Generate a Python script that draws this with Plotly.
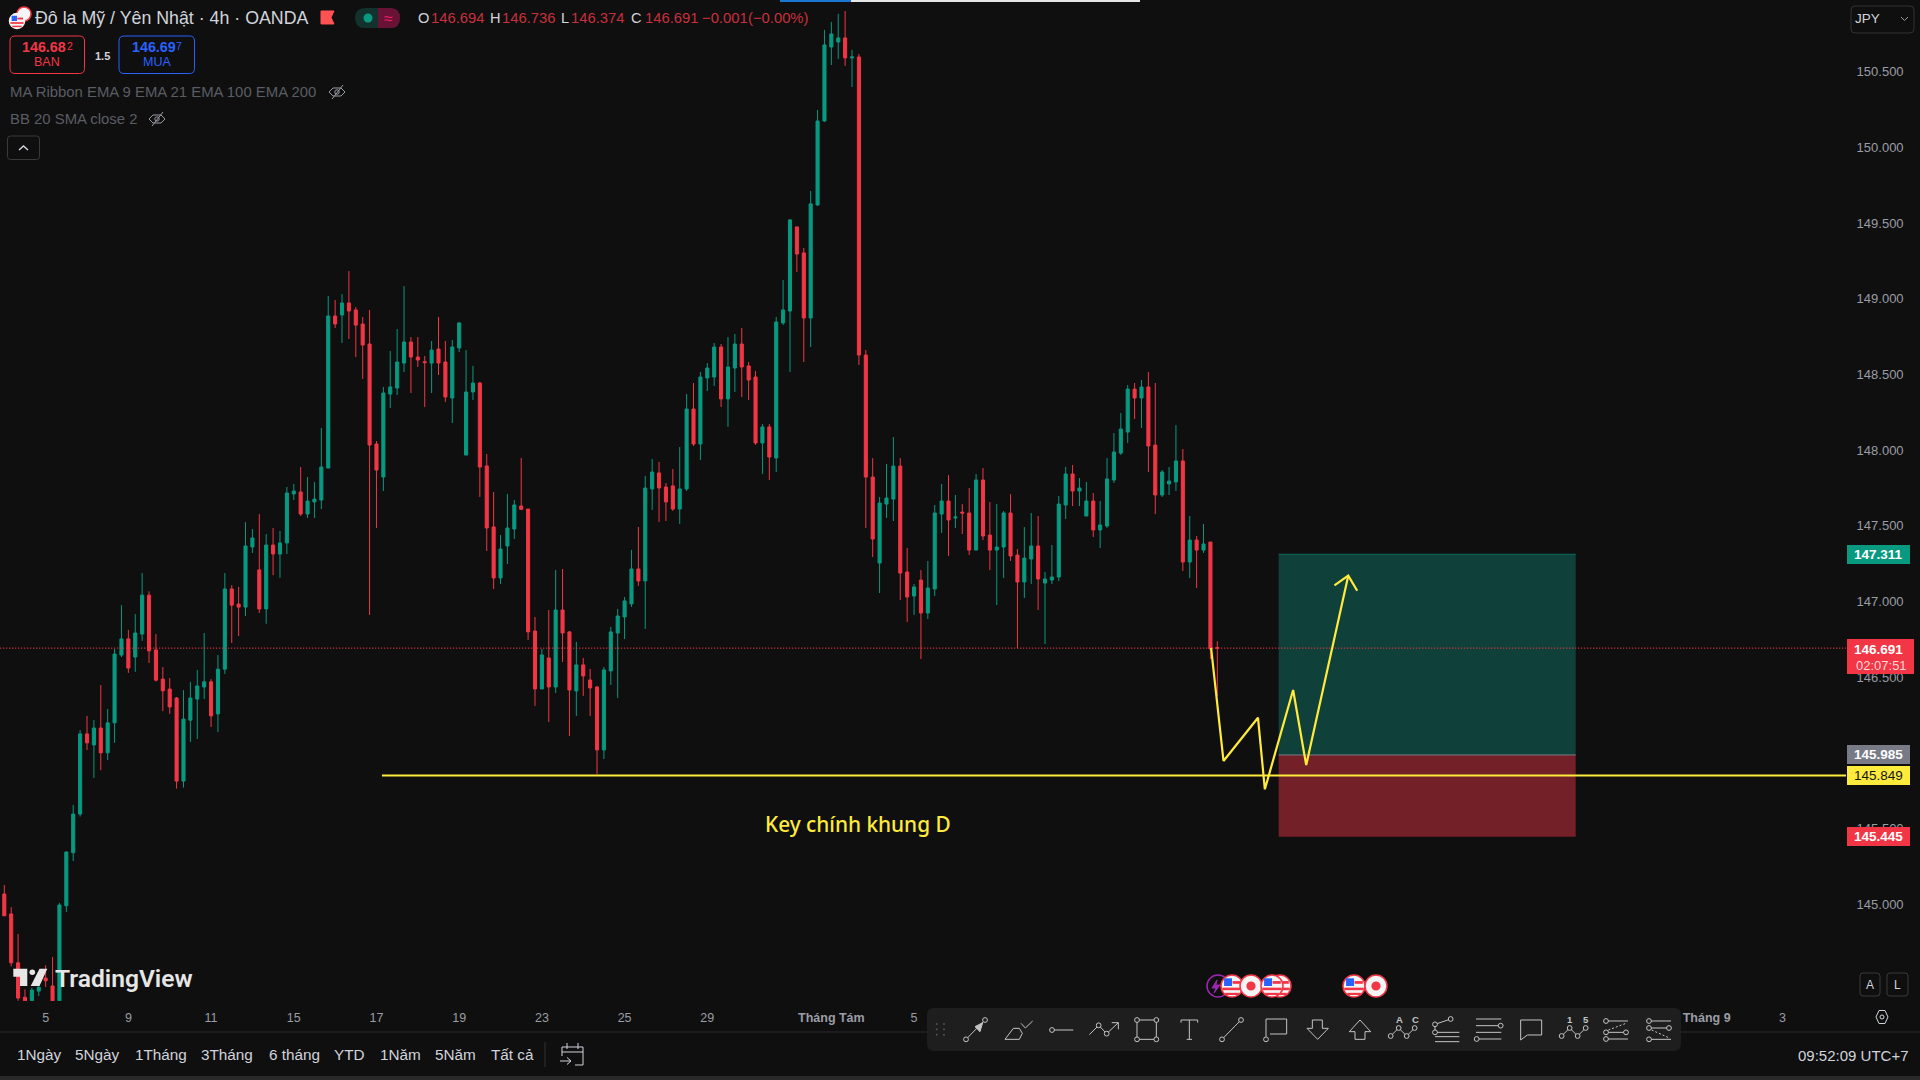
import plotly.graph_objects as go

# ---------- data ----------
opens = [145.066,144.934,144.611,144.383,144.360,144.424,144.510,144.458,144.360,144.988,
145.339,145.594,146.124,146.051,146.163,145.999,146.197,146.645,146.752,146.632,
146.784,147.041,146.679,146.486,146.420,146.361,145.812,146.215,146.354,146.434,
146.468,146.256,146.552,147.082,146.982,146.962,147.359,147.208,146.950,147.372,
147.313,147.386,147.710,147.723,147.577,147.657,147.670,147.881,148.886,148.893,
148.972,148.926,148.833,148.701,148.040,147.822,148.370,148.410,148.575,148.714,
148.615,148.584,148.575,148.668,148.582,148.344,148.675,147.967,148.384,148.443,
147.895,147.492,147.155,147.366,147.478,147.630,147.610,146.804,146.421,146.626,
146.434,146.943,146.798,146.408,146.580,146.480,146.434,146.018,146.540,146.791,
146.897,146.983,147.214,147.135,147.743,147.849,147.756,147.763,147.610,147.743,
148.271,148.040,148.476,148.483,148.681,148.338,148.542,148.701,148.556,148.483,
148.047,148.153,147.948,148.840,148.919,149.475,149.303,148.873,149.620,150.175,
150.664,150.697,150.724,150.592,150.598,148.628,147.822,147.253,147.643,147.676,
147.894,147.194,147.035,147.141,146.923,147.082,147.577,147.663,147.551,147.590,
147.584,147.339,147.802,147.438,147.339,147.359,147.584,147.306,147.128,147.280,
147.366,147.121,147.141,147.161,147.637,147.842,147.729,147.564,147.663,147.472,
147.498,147.802,147.980,148.119,148.403,148.344,148.417,148.033,147.703,147.776,
147.789,147.928,147.260,147.405,147.339,147.392,146.694]
highs = [145.125,144.979,144.802,144.435,144.447,144.481,144.595,144.649,145.007,145.348,
145.655,146.149,146.243,146.215,146.447,146.288,146.686,146.975,146.811,146.916,
147.187,147.066,146.784,146.566,146.493,146.368,146.413,146.468,146.547,146.791,
146.486,146.645,147.187,147.107,147.096,147.524,147.478,147.577,147.445,147.485,
147.465,147.756,147.776,147.888,147.822,147.789,148.146,149.018,148.992,149.031,
149.183,148.945,148.879,148.926,148.060,148.417,148.655,148.800,149.084,148.747,
148.747,148.622,148.721,148.880,148.721,148.728,148.846,148.661,148.556,148.450,
147.974,147.723,147.439,147.710,147.670,147.948,147.610,146.897,146.685,146.943,
147.207,147.214,146.804,146.732,146.626,146.553,146.441,146.566,146.831,146.950,
147.029,147.340,147.492,147.829,147.941,147.921,147.782,147.875,148.020,148.371,
148.443,148.516,148.575,148.708,148.701,148.747,148.767,148.807,148.582,148.523,
148.172,148.172,148.880,149.124,149.527,149.475,149.336,149.713,150.248,150.777,
150.830,150.883,150.902,150.645,150.618,148.662,147.947,147.690,147.908,148.086,
147.947,147.353,147.115,147.207,147.267,147.637,147.776,147.835,147.703,147.643,
147.749,147.842,147.881,147.657,147.643,147.597,147.709,147.346,147.491,147.584,
147.564,147.194,147.372,147.696,147.888,147.901,147.815,147.789,147.716,147.663,
147.947,148.113,148.245,148.430,148.443,148.463,148.516,148.443,147.868,147.888,
148.165,148.007,147.564,147.432,147.511,147.392,146.736]
lows = [144.922,144.588,144.360,144.360,144.360,144.392,144.451,144.360,144.360,144.947,
145.284,145.578,146.017,145.833,145.885,145.951,146.065,146.632,146.527,146.534,
146.739,146.593,146.470,146.274,146.256,145.762,145.769,146.070,146.090,146.354,
146.170,146.136,146.520,146.725,146.771,146.903,147.320,146.923,146.852,147.173,
147.155,147.313,147.670,147.564,147.551,147.551,147.610,147.881,148.807,148.708,
148.734,148.615,148.470,146.910,147.485,147.729,148.278,148.364,148.516,148.377,
148.549,148.285,148.377,148.496,148.318,148.179,148.648,147.967,148.331,147.690,
147.333,147.082,147.115,147.247,147.412,147.604,146.745,146.309,146.421,146.203,
146.395,146.599,146.110,146.243,146.375,146.243,145.859,145.958,146.447,146.361,
146.751,146.963,147.102,146.818,147.604,147.525,147.531,147.597,147.511,147.730,
148.027,147.934,148.390,148.423,148.285,148.153,148.384,148.351,148.331,148.034,
147.842,147.802,147.855,148.827,148.516,149.177,148.582,148.681,149.613,150.169,
150.545,150.585,150.539,150.400,148.562,147.485,147.293,147.055,147.551,147.531,
147.009,146.863,146.910,146.619,146.883,147.035,147.452,147.300,147.485,147.445,
147.306,147.339,147.405,147.207,146.976,147.154,147.267,146.692,147.022,147.115,
146.943,146.718,147.115,147.134,147.544,147.630,147.630,147.564,147.425,147.353,
147.485,147.782,147.967,148.047,148.205,148.146,147.855,147.577,147.690,147.703,
147.729,147.200,147.154,147.088,147.320,146.619,146.374]
closes = [144.922,144.611,144.378,144.360,144.431,144.449,144.492,144.360,144.993,145.343,
145.594,146.124,146.065,146.163,145.999,146.197,146.652,146.752,146.559,146.791,
147.041,146.673,146.479,146.409,146.302,145.812,146.222,146.361,146.441,146.468,
146.243,146.552,147.082,146.975,146.962,147.366,147.419,146.950,147.372,147.313,
147.386,147.716,147.729,147.577,147.663,147.676,147.888,148.886,148.833,148.972,
148.919,148.826,148.694,148.033,147.868,148.377,148.417,148.582,148.714,148.615,
148.595,148.578,148.661,148.575,148.351,148.681,148.840,148.384,148.443,147.888,
147.485,147.155,147.346,147.485,147.637,147.608,146.798,146.421,146.646,146.434,
146.943,146.791,146.414,146.580,146.507,146.428,146.018,146.547,146.798,146.903,
147.003,147.214,147.135,147.749,147.855,147.749,147.657,147.610,147.743,148.271,
148.040,148.483,148.542,148.681,148.338,148.549,148.701,148.549,148.463,148.047,
148.153,147.954,148.846,148.926,149.521,149.296,148.873,149.627,150.175,150.678,
150.750,150.724,150.592,150.598,148.628,147.822,147.412,147.650,147.683,147.894,
147.187,147.029,147.095,146.923,147.088,147.584,147.663,147.538,147.557,147.584,
147.339,147.802,147.432,147.339,147.359,147.584,147.300,147.128,147.286,147.366,
147.148,147.148,147.161,147.643,147.842,147.729,147.749,147.663,147.472,147.505,
147.809,147.987,148.139,148.403,148.344,148.417,148.027,147.703,147.855,147.795,
147.928,147.260,147.405,147.339,147.379,146.685,146.691]

y_ticks = [145.0,145.5,146.0,146.5,147.0,147.5,148.0,148.5,149.0,149.5,150.0,150.5]
x_tick_bars = [6,18,30,42,54,66,78,90,102,120,132,247,258]
x_tick_text = ["5","9","11","15","17","19","23","25","29","<b>Tháng Tám</b>","5","<b>Tháng 9</b>","3"]

last_price = 146.691
key_level = 145.849
key_start_bar = 54.8
target_price = 147.311
entry_price = 145.985
stop_price = 145.445
box_bars = [184.9, 228.0]

path_bars = [175.1,176.9,181.9,182.9,187.0,188.9,195.0]
path_prices = [146.692,145.945,146.231,145.758,146.414,145.918,147.170]
head_bars = [193.0,195.0,196.3]
head_prices = [147.106,147.170,147.070]

range_buttons = ["1Ngày","5Ngày","1Tháng","3Tháng","6 tháng","YTD","1Năm","5Năm","Tất cả"]

# ---------- style ----------
BG = "#0f0f0f"
GREEN = "#089981"
RED = "#f23645"
YELLOW = "#ffeb3b"
AXIS = "#9a9da5"
INK = "#d1d4dc"
TOOL = "#c4c4c4"
TOOLBG = "#1e1e1e"
SANS = "Liberation Sans"

bars = list(range(len(opens)))
x_range = [-0.624, 267.22]
y_range = [144.3586, 150.9746]


def X(v):
    return v / 1920


def Y(v):
    return 1 - v / 1080


shapes = []
notes = []


def rect(x0, y0, x1, y1, fill, line=None, w=1):
    shapes.append(dict(type="rect", xref="paper", yref="paper", x0=X(x0), x1=X(x1), y0=Y(y0), y1=Y(y1),
                       fillcolor=fill, line=dict(color=line or fill, width=w if line else 0)))


def circ(cx, cy, r, fill="rgba(0,0,0,0)", line=TOOL, w=1):
    shapes.append(dict(type="circle", xref="paper", yref="paper", x0=X(cx - r), x1=X(cx + r), y0=Y(cy - r), y1=Y(cy + r),
                       fillcolor=fill, line=dict(color=line, width=w)))


def poly(pts, line=TOOL, w=1, fill=None, close=False, dash=None):
    d = "M" + " L".join(f"{X(a):.6f},{Y(b):.6f}" for a, b in pts) + (" Z" if close else "")
    shapes.append(dict(type="path", xref="paper", yref="paper", path=d,
                       fillcolor=fill or "rgba(0,0,0,0)", line=dict(color=line, width=w, dash=dash or "solid")))


def rrect(x0, y0, x1, y1, r, fill="rgba(0,0,0,0)", line=None, w=1):
    p = (f"M{X(x0+r)},{Y(y0)} L{X(x1-r)},{Y(y0)} Q{X(x1)},{Y(y0)} {X(x1)},{Y(y0+r)} "
         f"L{X(x1)},{Y(y1-r)} Q{X(x1)},{Y(y1)} {X(x1-r)},{Y(y1)} L{X(x0+r)},{Y(y1)} "
         f"Q{X(x0)},{Y(y1)} {X(x0)},{Y(y1-r)} L{X(x0)},{Y(y0+r)} Q{X(x0)},{Y(y0)} {X(x0+r)},{Y(y0)} Z")
    shapes.append(dict(type="path", xref="paper", yref="paper", path=p, fillcolor=fill,
                       line=dict(color=line or fill, width=w if line else 0)))


def text(x, y, s, size=14, color=INK, anchor="left", family=SANS, weight=None):
    f = dict(size=size, color=color, family=family)
    if weight:
        f["weight"] = weight
    notes.append(dict(xref="paper", yref="paper", x=X(x), y=Y(y), text=s, showarrow=False, xanchor=anchor,
                      yanchor="middle", font=f, borderpad=0, borderwidth=0))


def eye(cx, cy):
    poly([(cx - 8, cy), (cx - 4, cy - 4), (cx + 4, cy - 4), (cx + 8, cy), (cx + 4, cy + 4), (cx - 4, cy + 4)],
         line="#9a9da5", w=1, close=True)
    circ(cx, cy, 2.2, line="#9a9da5")
    poly([(cx - 5, cy + 7), (cx + 6, cy - 7)], line="#9a9da5", w=1)


def us_flag(cx, cy, r, ring=RED):
    circ(cx, cy, r, fill="#f5f5f5", line=ring, w=1.5)
    rect(cx + r * .05, cy - r * .45, cx + r * .8, cy - r * .2, "#f23645")
    rect(cx - r * .88, cy + r * .15, cx + r * .88, cy + r * .38, "#f23645")
    rect(cx - r * .62, cy + r * .62, cx + r * .62, cy + r * .82, "#f23645")
    rect(cx - r * .72, cy - r * .7, cx, cy, "#2962ff")


def jp_flag(cx, cy, r, ring=RED):
    circ(cx, cy, r, fill="#f5f5f5", line=ring, w=1.5)
    circ(cx, cy, r * .42, fill=RED, line=RED, w=0)


# top progress strip
rect(780, 0, 851, 2, "#1976d2")
rect(851, 0, 1140, 2, "#e6e6e6")

# header
circ(24, 14, 7, fill="#f5f5f5", line=RED, w=1.5)
us_flag(17, 21, 7.5, ring="#f5f5f5")
text(35, 18, "Đô la Mỹ / Yên Nhật · 4h · OANDA", 17.8)
poly([(321, 11), (334, 11), (331, 17.5), (334, 24), (321, 24)], line="#ff5252", fill="#ff5252", close=True)
rrect(355, 8, 400, 28, 10, fill="#14322d")
rrect(378, 8, 400, 28, 10, fill="#6a1236")
rect(378, 8, 386, 28, "#6a1236")
circ(368, 18, 4.5, fill=GREEN, line=GREEN, w=0)
text(388, 18, "≈", 16, "#e91e63", "center")

for x, s in ((418, "O"), (490, "H"), (561, "L"), (631, "C")):
    text(x, 18, s, 14.6, INK)
for x, s in ((431, "146.694"), (502, "146.736"), (571, "146.374"), (645, "146.691"), (702, "−0.001"), (748, "(−0.00%)")):
    text(x, 18, s, 14.8, "#c9303d")

# order buttons
rrect(10, 36, 84.5, 73.5, 5, line=RED)
rrect(119, 36, 194.5, 73.5, 5, line="#2962ff")
text(44.3, 47, "146.68", 14.3, RED, "center", weight=700)
text(66.5, 46, "2", 10.5, RED)
text(47, 61.5, "BAN", 12.5, RED, "center")
text(102, 56, "1.5", 11, INK, "center", weight=700)
text(153.8, 47, "146.69", 14.3, "#2962ff", "center", weight=700)
text(175.7, 46, "7", 10.5, "#2962ff")
text(156.5, 61.5, "MUA", 12.5, "#2962ff", "center")

# indicators
text(10, 92, "MA Ribbon EMA 9 EMA 21 EMA 100 EMA 200", 14.9, "#5a5d64")
eye(337, 92)
text(10, 119, "BB 20 SMA close 2", 14.9, "#5a5d64")
eye(157, 119)
rrect(7.5, 136, 39.5, 159.5, 3, line="#3a3a3a")
poly([(19, 150), (23.5, 146), (28, 150)], line=INK, w=1.5)

# currency box
rrect(1851, 6, 1914, 33, 4, line="#333333")
text(1855, 18.5, "JPY", 13.5, INK)
poly([(1901, 17), (1904.5, 20.5), (1908, 17)], line=AXIS)

# price labels on the axis
rect(1847, 545, 1910, 564, GREEN)
text(1878.5, 554.5, "147.311", 13.5, "#ffffff", "center", weight=700)
rect(1847, 639, 1914, 674, RED)
text(1878.5, 649, "146.691", 13.5, "#ffffff", "center", weight=700)
text(1881, 665, "02:07:51", 13, "#ffd6da", "center")
rect(1847, 745, 1910, 764, "#787b86")
text(1878.5, 754.5, "145.985", 13.5, "#ffffff", "center", weight=700)
rect(1847, 766, 1910, 785, YELLOW)
text(1878.5, 775.5, "145.849", 13.5, "#131722", "center")
rect(1847, 827, 1910, 846, RED)
text(1878.5, 836.5, "145.445", 13.5, "#ffffff", "center", weight=700)

# note on the chart
text(858, 824, "Key chính khung D", 20.8, YELLOW, "center", family="Noto Sans", weight=500)

# watermark
wy = lambda z: 540 + z / 2.9037
poly([(13.3, wy(1245)), (27.3, wy(1245)), (27.3, wy(1295)), (20, wy(1295)), (20, wy(1268)), (13.3, wy(1268))],
     line="#e6e6e6", fill="#e6e6e6", close=True, w=0)
circ(32.3, wy(1255), 2.8, fill="#e6e6e6", line="#e6e6e6", w=0)
poly([(39.5, wy(1245)), (47.3, wy(1245)), (39.5, wy(1295)), (30.7, wy(1295))], line="#e6e6e6", fill="#e6e6e6", close=True, w=0)
text(55, 978, "TradingView", 24.6, "#e6e6e6", family="Roboto", weight=600)

# event markers
circ(1218, 986, 11, fill=BG, line="#9c27b0", w=1.5)
poly([(1217, 980), (1212, 988), (1216, 988), (1214, 993), (1220, 985), (1216, 985)], line="#9c27b0", fill="#9c27b0", close=True)
us_flag(1280, 986, 11)
us_flag(1232, 986, 11)
jp_flag(1251, 986, 11)
us_flag(1272, 986, 11)
us_flag(1354, 986, 11)
jp_flag(1376, 986, 11)

# A / L buttons and settings
rrect(1860, 973, 1880, 996, 3, line="#3a3a3a")
text(1870, 984.5, "A", 12, INK, "center")
rrect(1887, 973, 1908, 996, 3, line="#3a3a3a")
text(1897.5, 984.5, "L", 12, INK, "center")
poly([(1876, 1017), (1879, 1010.5), (1885, 1010.5), (1888, 1017), (1885, 1023.5), (1879, 1023.5)], line=INK, close=True)
circ(1882, 1017, 2, line=INK)

# bottom bars
poly([(0, 1032), (1920, 1032)], line="#2b2b2e", w=1)
rect(0, 1076, 1920, 1080, "#2a2a2a")
for cx, s in zip((39, 97.5, 160.5, 227, 294, 349, 400, 455, 512), range_buttons):
    text(cx, 1054, s, 15.3, INK, "center")
poly([(545, 1042), (545, 1067)], line="#333336")
poly([(575, 1065), (583, 1065), (583, 1047), (562, 1047), (562, 1056)], line=INK)
poly([(562, 1052), (583, 1052)], line=INK)
poly([(567, 1043), (567, 1049)], line=INK)
poly([(578, 1043), (578, 1049)], line=INK)
poly([(560, 1061), (571, 1061)], line=INK)
poly([(567, 1057.5), (571, 1061), (567, 1064.5)], line=INK)
text(1909, 1055, "09:52:09 UTC+7", 15, INK, "right")

# drawing toolbar
rrect(927, 1008, 1681, 1051, 7, fill=TOOLBG)
for dx in (936.7, 944):
    for dy in (1024, 1029.3, 1034.7):
        rect(dx - .8, dy - .8, dx + .8, dy + .8, "#5a5a5a")


def a(zx, zy):
    return (920 + zx / 3, 1000 + zy / 3)


def b(zx, zy):
    return (1300 + zx / 3, 1000 + zy / 3)


def dot(p, r=2.4):
    circ(p[0], p[1], r, fill=TOOLBG)


# arrow
poly([a(138, 118), a(195, 60)])
poly([a(188, 68), a(165, 80), a(180, 95)], fill=TOOL, close=True)
dot(a(138, 118)); dot(a(195, 60))
# brush
poly([a(255, 118), a(298, 118), a(307, 100), a(298, 85), a(280, 85)], close=True)
poly([a(303, 70), a(316, 84), a(338, 63)])
# ray
poly([a(396, 90), a(460, 90)]); dot(a(396, 90))
# path
poly([a(508, 104), a(536, 76), a(560, 101), a(595, 68)])
poly([a(575, 68), a(595, 68), a(595, 88)])
dot(a(536, 76)); dot(a(560, 101))
# rectangle
poly([a(651, 60), a(709, 60), a(709, 118), a(651, 118)], close=True)
for p in (a(651, 60), a(709, 60), a(709, 118), a(651, 118)):
    dot(p)
# text tool
poly([a(783, 68), a(783, 60), a(833, 60), a(833, 68)])
poly([a(808, 60), a(808, 118)]); poly([a(800, 118), a(816, 118)])
# trend line
poly([a(906, 118), a(963, 60)]); dot(a(906, 118)); dot(a(963, 60))
# callout
poly([a(1038, 110), a(1038, 57), a(1100, 57), a(1100, 102), a(1050, 102)]); dot(a(1038, 118))
# arrows down / up
poly([b(37, 60), b(67, 60), b(67, 85), b(85, 85), b(53, 118), b(21, 85), b(37, 85)], close=True)
poly([b(180, 60), b(212, 95), b(195, 95), b(195, 118), b(165, 118), b(165, 95), b(148, 95)], close=True)
# ABCD and 12345 patterns
for base, l1, l2 in ((272, "A", "C"), (785, "1", "5")):
    pts = [b(base, 108), b(base + 24, 84), b(base + 48, 108), b(base + 72, 84)]
    poly(pts)
    for p in pts:
        dot(p)
    cx1, cy1 = b(base + 25, 57)
    cx2, cy2 = b(base + 73, 57)
    text(cx1, cy1, l1, 9.5, TOOL, "center", weight=700)
    text(cx2, cy2, l2, 9.5, TOOL, "center", weight=700)
# fib fan
poly([b(405, 73), b(452, 57)]); poly([b(405, 73), b(405, 97)]); dot(b(405, 73)); dot(b(452, 57)); dot(b(405, 97))
poly([b(412, 97), b(478, 97)]); poly([b(405, 110), b(478, 110)]); poly([b(405, 125), b(478, 125)])
# parallel lines
poly([b(528, 57), b(604, 57)]); poly([b(528, 77), b(596, 77)]); dot(b(602, 77))
poly([b(528, 97), b(604, 97)]); poly([b(536, 117), b(604, 117)]); dot(b(530, 117))
# speech
poly([b(662, 60), b(725, 60), b(725, 105), b(682, 105), b(662, 120)], close=True)
# projections
poly([b(924, 63), b(984, 63)]); dot(b(918, 63))
poly([b(924, 97), b(972, 97)]); dot(b(918, 97)); dot(b(978, 97))
poly([b(925, 90), b(978, 70)], dash="2px,2px")
poly([b(924, 117), b(984, 117)]); dot(b(918, 117))
poly([b(1053, 63), b(1113, 63)]); dot(b(1047, 63))
poly([b(1053, 84), b(1101, 84)]); dot(b(1047, 84)); dot(b(1107, 84))
poly([b(1055, 90), b(1110, 115)], dash="2px,2px")
poly([b(1053, 118), b(1113, 118)]); dot(b(1047, 118))

# trade box in chart values (below candles)
shapes = [
    dict(type="rect", xref="x", yref="y", x0=box_bars[0], x1=box_bars[1], y0=entry_price, y1=target_price,
         fillcolor="#10403a", line=dict(width=0), layer="below"),
    dict(type="rect", xref="x", yref="y", x0=box_bars[0], x1=box_bars[1], y0=stop_price, y1=entry_price,
         fillcolor="#732029", line=dict(width=0), layer="below"),
    dict(type="line", xref="x", yref="y", x0=box_bars[0], x1=box_bars[1], y0=entry_price, y1=entry_price,
         line=dict(color="#787b86", width=1), layer="below"),
    dict(type="line", xref="x", yref="y", x0=box_bars[0], x1=box_bars[1], y0=target_price, y1=target_price,
         line=dict(color="#0d6b5c", width=1), layer="below"),
] + shapes

fig = go.Figure()
fig.add_trace(go.Scatter(x=x_range, y=[last_price, last_price], mode="lines", hoverinfo="skip",
                         line=dict(color=RED, width=1, dash="1.3px,1.7px")))
fig.add_trace(go.Candlestick(
    x=bars, open=opens, high=highs, low=lows, close=closes, whiskerwidth=0, hoverinfo="skip",
    increasing=dict(line=dict(color=GREEN, width=1), fillcolor=GREEN),
    decreasing=dict(line=dict(color=RED, width=1), fillcolor=RED)))
fig.add_trace(go.Scatter(x=[key_start_bar, x_range[1]], y=[key_level, key_level], mode="lines", hoverinfo="skip",
                         line=dict(color=YELLOW, width=2.2)))
fig.add_trace(go.Scatter(x=path_bars, y=path_prices, mode="lines", hoverinfo="skip",
                         line=dict(color=YELLOW, width=2.2)))
fig.add_trace(go.Scatter(x=head_bars, y=head_prices, mode="lines", hoverinfo="skip",
                         line=dict(color=YELLOW, width=2.2)))

fig.update_layout(
    width=1920, height=1080, margin=dict(l=0, r=0, t=0, b=0), showlegend=False,
    paper_bgcolor=BG, plot_bgcolor=BG, boxgap=0.36,
    shapes=shapes, annotations=notes, dragmode=False,
    xaxis=dict(domain=[0, 1846 / 1920], range=x_range, rangeslider=dict(visible=False), showgrid=False, zeroline=False,
               tickmode="array", tickvals=x_tick_bars, ticktext=x_tick_text, ticks="outside", ticklen=4.5,
               tickcolor=BG, tickfont=dict(family=SANS, size=12.5, color=AXIS), showline=False, anchor="y", tickangle=0),
    yaxis=dict(domain=[1 - 1001 / 1080, 1], range=y_range, side="right", showgrid=False, zeroline=False,
               tickmode="array", tickvals=y_ticks, tickformat=".3f", ticks="outside", ticklen=7,
               tickcolor=BG, tickfont=dict(family=SANS, size=13, color=AXIS), showline=False, anchor="x"),
)

fig.write_html("out.html", config=dict(displayModeBar=False, staticPlot=True),
               post_script="document.body.style.margin='0';document.body.style.background='#0f0f0f';document.documentElement.style.overflow='hidden';")
